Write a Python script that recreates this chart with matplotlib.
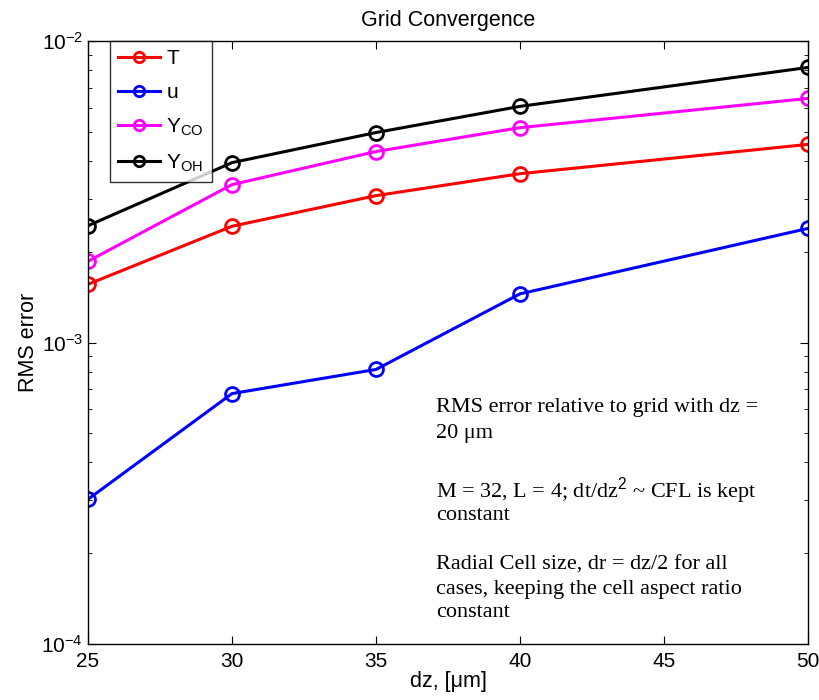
"""Grid convergence: RMS error vs dz for T, u, Y_CO, Y_OH (log y)."""
import matplotlib
matplotlib.use("Agg")
import matplotlib.pyplot as plt
from matplotlib.ticker import LogLocator, NullFormatter

dz = [25, 30, 35, 40, 50]
err_T = [1.56e-3, 2.43e-3, 3.07e-3, 3.63e-3, 4.54e-3]
err_u = [3.02e-4, 6.77e-4, 8.14e-4, 1.45e-3, 2.39e-3]
err_YCO = [1.86e-3, 3.34e-3, 4.30e-3, 5.16e-3, 6.45e-3]
err_YOH = [2.44e-3, 3.95e-3, 4.97e-3, 6.07e-3, 8.17e-3]
labels = ["T", "u", r"Y$_{\rm CO}$", r"Y$_{\rm OH}$"]
colors = ["#ff0000", "#0000ff", "#ff00ff", "#000000"]
note_lines = ["RMS error relative to grid with dz =", "20 \u03bcm",
              "M = 32, L = 4; dt/dz$^2$ ~ CFL is kept", "constant",
              "Radial Cell size, dr = dz/2 for all",
              "cases, keeping the cell aspect ratio", "constant"]
# baselines of the note lines, pixels from the top of the figure
note_y = [412, 438, 497, 520, 570, 594, 617]

plt.rcParams["font.family"] = ["Liberation Sans", "DejaVu Sans"]
plt.rcParams["mathtext.fontset"] = "custom"
plt.rcParams["mathtext.rm"] = "Liberation Sans"
plt.rcParams["mathtext.it"] = "Liberation Sans"

fig = plt.figure(figsize=(8.19, 7.0), dpi=100)
ax = fig.add_axes([88 / 819, 56 / 700, 720 / 819, 603 / 700])

for ys, lab, c in zip([err_T, err_u, err_YCO, err_YOH], labels, colors):
    ax.plot(dz, ys, "-o", color=c, lw=2.2, ms=10, mfc="none", mew=2, label=lab)

ax.set_yscale("log")
ax.set_xlim(25, 50)
ax.set_ylim(1e-4, 1e-2)
ax.set_xticks([25, 30, 35, 40, 45, 50])
ax.yaxis.set_major_locator(LogLocator(base=10, numticks=5))
ax.yaxis.set_minor_locator(LogLocator(base=10, subs=range(2, 10), numticks=20))
ax.yaxis.set_minor_formatter(NullFormatter())
ax.tick_params(which="both", direction="in", top=True, right=True, labelsize=15)
ax.tick_params(which="major", length=6)
ax.tick_params(which="minor", length=3)
ax.tick_params(axis="x", pad=6)
for s in ax.spines.values():
    s.set_linewidth(1.0)

ax.set_title("Grid Convergence", fontsize=15.5, pad=11)
ax.set_xlabel("dz, [\u03bcm]", fontsize=15.5, labelpad=0)
ax.set_ylabel("RMS error", fontsize=15.5, labelpad=2)

leg = ax.legend(loc="upper left", bbox_to_anchor=(0.0305, 1.0), fontsize=15,
                frameon=True, fancybox=False, edgecolor="black",
                handlelength=2.0, borderaxespad=0, labelspacing=0.7,
                handletextpad=0.3, borderpad=0.4, markerscale=0.75)
leg.get_frame().set_linewidth(1.0)

for line, yb in zip(note_lines, note_y):
    ax.text(0.483, (644 - yb) / 603, line, transform=ax.transAxes,
            ha="left", va="baseline", fontsize=16, family="Liberation Serif")

fig.savefig("out.png", dpi=100)
